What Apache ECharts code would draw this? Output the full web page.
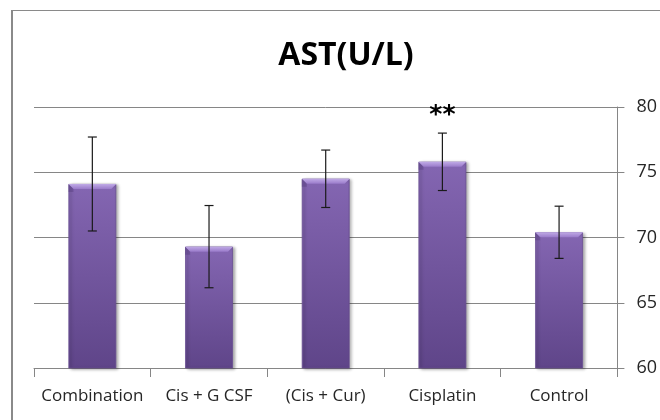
<!DOCTYPE html>
<html>
<head>
<meta charset="utf-8">
<script src="https://cdn.jsdelivr.net/npm/echarts@6/dist/echarts.min.js"></script>
<style>
html,body{margin:0;padding:0;background:#fff;}
#chart{width:660px;height:420px;}
</style>
</head>
<body>
<div id="chart"></div>
<script>
var categories = ['Combination', 'Cis + G CSF', '(Cis + Cur)', 'Cisplatin', 'Control'];
var means = [74.1, 69.3, 74.5, 75.8, 70.4];
var errors = [3.6, 3.15, 2.2, 2.2, 2.0];
var significance = ['', '', '', '**', ''];
var yTicks = {min: 60, max: 80, interval: 5};
var titleText = 'AST(U/L)';

var errData = categories.map(function (c, i) {
  return [i, means[i], means[i] - errors[i], means[i] + errors[i], significance[i]];
});

var chart = echarts.init(document.getElementById('chart'), null, {renderer: 'canvas'});
var barRatio = 0.41;

chart.setOption({
  animation: false,
  backgroundColor: '#ffffff',
  title: {
    text: titleText,
    left: 341,
    textAlign: 'center',
    top: 35,
    textStyle: {fontFamily: 'Open Sans', fontWeight: 'bold', fontSize: 32, color: '#000'}
  },
  graphic: [
    {type: 'line', shape: {x1: 12, y1: 10, x2: 12, y2: 430}, style: {stroke: '#8a8a8a', lineWidth: 2}},
    {type: 'line', shape: {x1: 11, y1: 10.5, x2: 670, y2: 10.5}, style: {stroke: '#8a8a8a', lineWidth: 1.2}}
  ],
  grid: {left: 34, right: 42, top: 107, bottom: 52},
  xAxis: {
    type: 'category',
    data: categories,
    boundaryGap: true,
    axisLine: {show: true, lineStyle: {color: '#868686', width: 1}},
    axisTick: {show: true, length: 9, lineStyle: {color: '#868686'}},
    axisLabel: {fontFamily: 'Open Sans', fontSize: 17, color: '#262626', margin: 20, interval: 0}
  },
  yAxis: {
    type: 'value',
    position: 'right',
    min: yTicks.min,
    max: yTicks.max,
    interval: yTicks.interval,
    axisLine: {show: true, lineStyle: {color: '#868686', width: 1}},
    axisTick: {show: true, length: 7, lineStyle: {color: '#868686'}},
    axisLabel: {fontFamily: 'Open Sans', fontSize: 18, color: '#262626', margin: 19},
    splitLine: {show: true, lineStyle: {color: '#868686', width: 1}}
  },
  series: [
    {
      type: 'bar',
      data: means,
      barWidth: (barRatio * 100) + '%',
      itemStyle: {
        color: new echarts.graphic.LinearGradient(0, 0, 0, 1, [
          {offset: 0, color: '#8466b2'},
          {offset: 1, color: '#5f4589'}
        ]),
        borderColor: '#6a4f93',
        borderWidth: 0.8,
        shadowColor: 'rgba(0,0,0,0.35)',
        shadowBlur: 3,
        shadowOffsetX: 2,
        shadowOffsetY: 1
      },
      z: 2
    },
    {
      type: 'custom',
      data: errData,
      z: 5,
      renderItem: function (params, api) {
        var x = api.value(0);
        var top = api.coord([x, api.value(1)]);
        var lo = api.coord([x, api.value(2)]);
        var hi = api.coord([x, api.value(3)]);
        var bw = api.size([1, 0])[0] * barRatio;
        var x0 = top[0] - bw / 2, x1 = top[0] + bw / 2;
        var bev = 5;
        var cap = 4.5;
        var st = {stroke: '#1a1a1a', lineWidth: 1.2};
        var children = [
          {type: 'polygon', shape: {points: [[x0, top[1]], [x1, top[1]], [x1 - bev, top[1] + bev], [x0 + bev, top[1] + bev]]},
            style: {fill: new echarts.graphic.LinearGradient(0, 0, 0, 1, [{offset: 0, color: '#c0aae6'}, {offset: 1, color: '#9a7bca'}])}},
          {type: 'polygon', shape: {points: [[x0, top[1]], [x0 + bev, top[1] + bev], [x0 + bev, top[1] + bev + 3], [x0, top[1] + bev + 3]]},
            style: {fill: 'rgba(70,45,110,0.3)'}},
          {type: 'line', shape: {x1: lo[0], y1: lo[1], x2: hi[0], y2: hi[1]}, style: st},
          {type: 'line', shape: {x1: hi[0] - cap, y1: hi[1], x2: hi[0] + cap, y2: hi[1]}, style: st},
          {type: 'line', shape: {x1: lo[0] - cap, y1: lo[1], x2: lo[0] + cap, y2: lo[1]}, style: st}
        ];
        var sig = api.value(4);
        if (sig) {
          children.push({type: 'text', x: hi[0], y: hi[1] - 5,
            style: {text: sig, textAlign: 'center', textVerticalAlign: 'bottom', fill: '#000',
              font: 'bold 25px "DejaVu Sans"'}});
        }
        return {type: 'group', children: children};
      }
    }
  ]
});
</script>
</body>
</html>
